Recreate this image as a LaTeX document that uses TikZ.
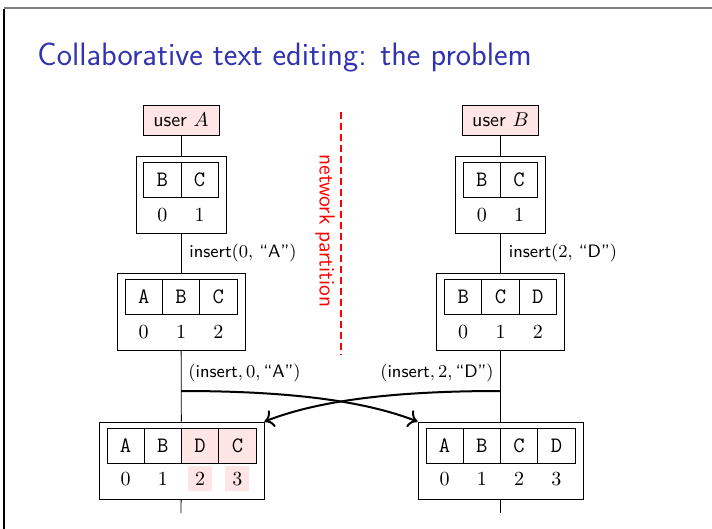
\documentclass[tikz,border=0pt]{standalone}
\usepackage{tikz}
\usetikzlibrary{calc, positioning, arrows.meta}
\definecolor{titleblue}{rgb}{0.2,0.2,0.7}
\colorlet{hlpink}{red!10}

\begin{document}
\begin{tikzpicture}[x=0.5pt, y=-0.5pt, font=\sffamily\fontsize{9}{11}\selectfont,
  user/.style={draw, fill=hlpink, minimum width=38pt, minimum height=15pt, inner sep=1pt, font=\sffamily\fontsize{10}{12}\selectfont},
  doc/.style={draw, minimum height=38.5pt, inner sep=0pt},
  cell/.style={draw, minimum width=18.65pt, minimum height=17.5pt, inner sep=0pt, font=\ttfamily\fontsize{11}{12}\selectfont},
  idx/.style={inner sep=0pt, minimum width=12pt, minimum height=12.5pt, font=\rmfamily\fontsize{10}{12}\selectfont},
  lbl/.style={inner sep=0pt},
  msg/.style={line width=1pt, -{To[length=4.5pt, width=9pt]}}]
\useasboundingbox (0,0) rectangle (712,529);
% frame edges
\draw[gray, line width=1pt] (4,8.5) -- (712,8.5);
\draw[line width=0.8pt] (4,9) -- (4,529);

\node[anchor=base west, inner sep=0pt, text=titleblue, font=\sffamily\fontsize{16.2}{19}\selectfont] (title) at (37,66) {Collaborative text editing: the problem};

% user A
\node[user] (uA) at (181,120) {user $A$};
\node[doc, minimum width=45pt] (a1) at (181,194.5) {};
\node[doc, minimum width=64pt] (a2) at (181,311.5) {};
\node[doc, minimum width=82.5pt] (a3) at (181.5,460.5) {};
\foreach \t [count=\i from 0] in {B,C} {
  \node[cell] (a1c\i) at ($(a1.north)+(\i*37.3-18.65,24.5)$) {\t};
  \node[idx] (a1i\i) at ($(a1.north)+(\i*37.3-18.65,59)$) {\i};
}
\foreach \t [count=\i from 0] in {A,B,C} {
  \node[cell] (a2c\i) at ($(a2.north)+(\i*37.3-37.3,24.5)$) {\t};
  \node[idx] (a2i\i) at ($(a2.north)+(\i*37.3-37.3,59)$) {\i};
}
\foreach \t/\f [count=\i from 0] in {A/white,B/white,D/hlpink,C/hlpink} {
  \node[cell, fill=\f] (a3c\i) at ($(a3.north)+(\i*37.3-55.95,24.5)$) {\t};
  \node[idx, fill=\f] (a3i\i) at ($(a3.north)+(\i*37.3-55.95,57)$) {\i};
}

% user B
\node[user] (uB) at (500.5,120) {user $B$};
\node[doc, minimum width=45pt] (b1) at (500.5,194.5) {};
\node[doc, minimum width=64pt] (b2) at (500.5,311.5) {};
\node[doc, minimum width=82.5pt] (b3) at (500.5,460.5) {};
\foreach \t [count=\i from 0] in {B,C} {
  \node[cell] (b1c\i) at ($(b1.north)+(\i*37.3-18.65,24.5)$) {\t};
  \node[idx] (b1i\i) at ($(b1.north)+(\i*37.3-18.65,59)$) {\i};
}
\foreach \t [count=\i from 0] in {B,C,D} {
  \node[cell] (b2c\i) at ($(b2.north)+(\i*37.3-37.3,24.5)$) {\t};
  \node[idx] (b2i\i) at ($(b2.north)+(\i*37.3-37.3,59)$) {\i};
}
\foreach \t [count=\i from 0] in {A,B,C,D} {
  \node[cell] (b3c\i) at ($(b3.north)+(\i*37.3-55.95,24.5)$) {\t};
  \node[idx] (b3i\i) at ($(b3.north)+(\i*37.3-55.95,57)$) {\i};
}

% timelines
\coordinate (sA) at (181,391);
\coordinate (sB) at (500.5,391);
\coordinate (eA) at (181,513);
\coordinate (eB) at (500.5,513);
\draw (uA) -- (a1);
\draw (a1) -- node[lbl, anchor=west, xshift=4pt] (opA) {insert$(0,$ ``A''$)$} (a2);
\draw (a2) -- (a3);
\draw (a3) -- (eA);
\draw (uB) -- (b1);
\draw (b1) -- node[lbl, anchor=west, xshift=4pt] (opB) {insert$(2,$ ``D''$)$} (b2);
\draw (b2) -- (b3);
\draw (b3) -- (eB);

\node[lbl, anchor=west] (mA) at (188,373) {$(\textsf{insert}, 0, \textsf{``A''})$};
\node[lbl, anchor=east] (mB) at (494,373) {$(\textsf{insert}, 2, \textsf{``D''})$};

\draw[msg] (sA) .. controls (300,391) and (370,403) .. (b3.north west);
\draw[msg] (sB) .. controls (381,391) and (312,403) .. (a3.north east);

% network partition
\coordinate (np1) at (341,112);
\coordinate (np2) at (341,355);
\draw[red, line width=1.2pt, dash pattern=on 3.5pt off 2pt] (np1) -- (np2);
\node[red, rotate=-90, inner sep=0pt, font=\sffamily\fontsize{11}{13}\selectfont] (npt) at (325,231) {network partition};
\end{tikzpicture}
\end{document}
